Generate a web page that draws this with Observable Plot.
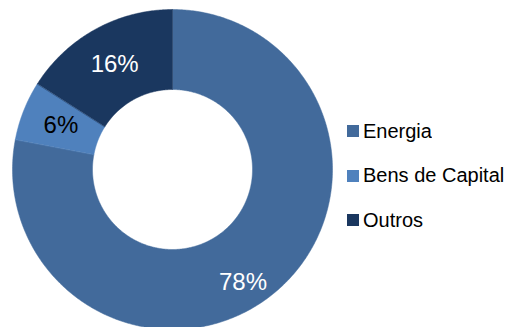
<!DOCTYPE html>
<html>
<head>
<meta charset="utf-8">
<script src="https://cdn.jsdelivr.net/npm/d3@7"></script>
<script src="https://cdn.jsdelivr.net/npm/@observablehq/plot@0.6"></script>
<style>
  html, body { margin: 0; padding: 0; background: #fff; }
  #wrap { position: relative; width: 514px; height: 327px; overflow: hidden; }
  #chart svg { position: absolute; left: 0; top: 0; }
  #legend { position: absolute; left: 347px; top: 109px; }
  #legend .lg-swatches { font-family: "Liberation Sans", Arial, sans-serif; font-size: 20px; color: #000; margin: 0; }
  #legend .lg-swatch { height: 44.5px; padding: 0; }
  #legend .lg-swatch > svg { margin-right: 4px; }
</style>
</head>
<body>
<div id="wrap"><div id="chart"></div><div id="legend"></div></div>
<script>
// Data
const categories = ["Energia", "Bens de Capital", "Outros"];
const values = [78, 6, 16];
const labels = ["78%", "6%", "16%"];
const colors = ["#426A9B", "#4F81BD", "#1A375F"];

const outerR = 1, innerR = 0.5;
const total = d3.sum(values);
let acc = 0;
const slices = categories.map((cat, i) => {
  const a0 = acc / total * 2 * Math.PI;
  acc += values[i];
  const a1 = acc / total * 2 * Math.PI;
  return {cat, value: values[i], label: labels[i], a0, a1};
});

// polygon vertices for each ring segment
const pts = [];
for (const s of slices) {
  const n = Math.max(8, Math.ceil((s.a1 - s.a0) / 0.01));
  for (let k = 0; k <= n; k++) {
    const a = s.a0 + (s.a1 - s.a0) * k / n;
    pts.push({cat: s.cat, x: outerR * Math.sin(a), y: outerR * Math.cos(a)});
  }
  for (let k = n; k >= 0; k--) {
    const a = s.a0 + (s.a1 - s.a0) * k / n;
    pts.push({cat: s.cat, x: innerR * Math.sin(a), y: innerR * Math.cos(a)});
  }
}

const midR = (outerR + innerR) / 2;
const labelPts = slices.map(s => {
  const m = (s.a0 + s.a1) / 2;
  return {cat: s.cat, label: s.label, x: midR * Math.sin(m), y: midR * Math.cos(m)};
});

const plot = Plot.plot({
  width: 514,
  height: 327,
  margin: 0,
  x: {domain: [-1, 1], range: [12, 332], axis: null},
  y: {domain: [-1, 1], range: [329, 9], axis: null},
  color: {domain: categories, range: colors},
  style: {fontFamily: "'Liberation Sans', Arial, sans-serif", background: "transparent"},
  marks: [
    Plot.line(pts, {x: "x", y: "y", z: "cat", fill: "cat", stroke: "cat", strokeWidth: 0.5, curve: "linear-closed"}),
    Plot.text(labelPts.filter(d => d.cat !== "Energia"), {
      x: "x", y: "y", text: "label", fontSize: 24,
      fill: d => d.cat === "Bens de Capital" ? "#000" : "#fff"
    }),
    Plot.text(labelPts.filter(d => d.cat === "Energia"), {
      x: "x", y: "y", text: "label", fontSize: 24, fill: "#fff", dx: -6, dy: 20
    })
  ]
});
document.getElementById("chart").appendChild(plot);

const legend = Plot.legend({
  color: {domain: categories, range: colors},
  legend: "swatches",
  columns: 1,
  swatchSize: 12,
  className: "lg"
});
document.getElementById("legend").appendChild(legend);
</script>
</body>
</html>
